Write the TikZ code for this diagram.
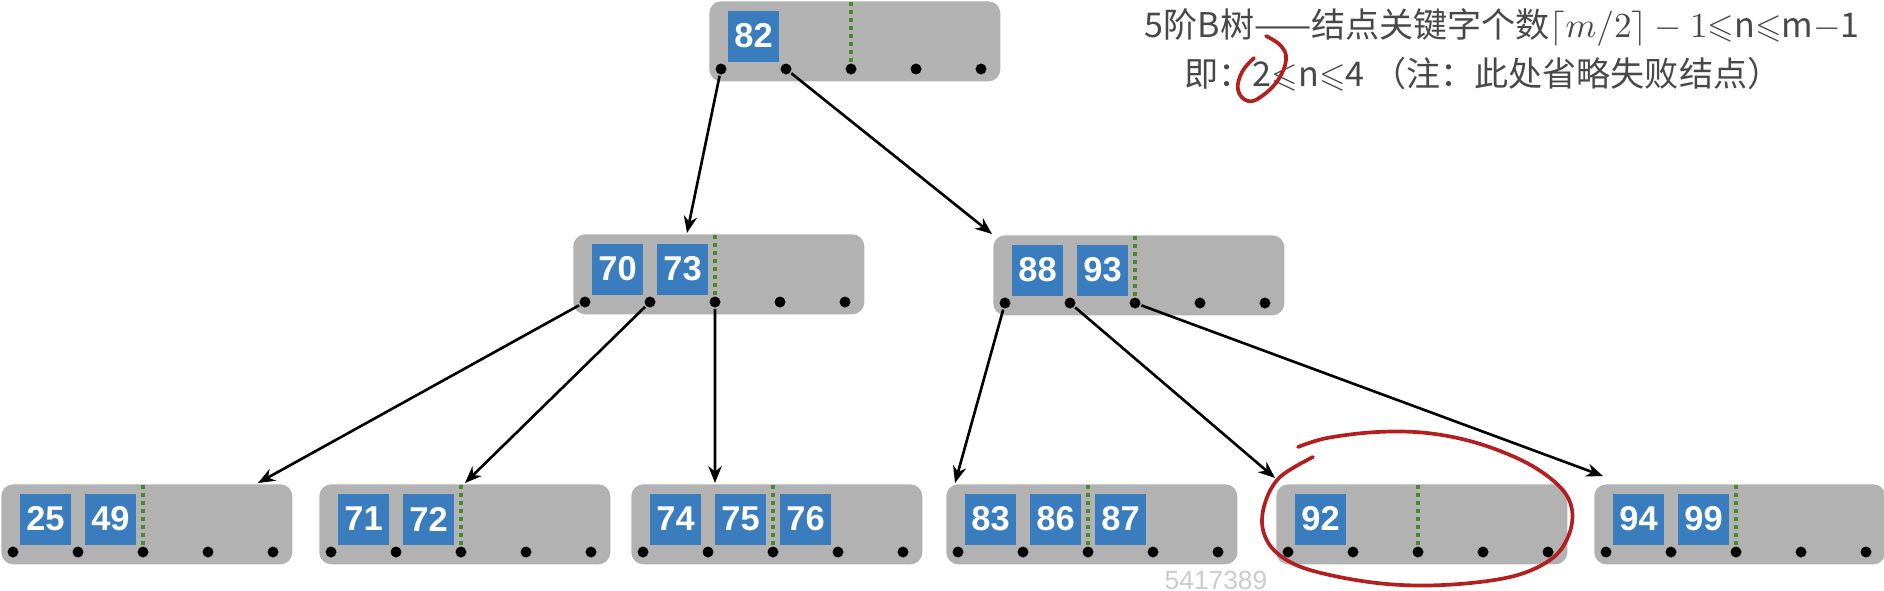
\documentclass[tikz,border=0pt]{standalone}
\usepackage{fontspec}
\usepackage{amssymb}
\setmainfont{Liberation Sans}
\newfontfamily\cjk{Noto Sans CJK SC}
\usetikzlibrary{arrows.meta}

\definecolor{boxgray}{RGB}{178,178,178}
\definecolor{keyblue}{RGB}{57,125,190}
\definecolor{mingreen}{RGB}{70,140,40}
\definecolor{penred}{RGB}{180,30,30}
\definecolor{textgray}{RGB}{72,72,72}

\tikzset{
  bbox/.style={fill=boxgray, rounded corners=3.4pt, minimum width=29.1mm,
    minimum height=8mm, anchor=north west, inner sep=0pt},
  bkey/.style={fill=keyblue, minimum size=5.1mm, inner sep=0pt, text=white,
    font=\fontsize{9.8}{10}\selectfont\bfseries},
  bptr/.style={circle, fill=black, minimum size=1.1mm, inner sep=0pt},
  bmin/.style={mingreen, line width=1.1pt, dash pattern=on 1.1pt off 1.2pt},
  pen/.style={penred, line width=1.05pt, line cap=round, line join=round},
  title/.style={text=textgray, font=\fontsize{9.7}{12}\selectfont\cjk, inner sep=0pt},
}

% one B-tree node: name, left, top, keys
\newcommand{\btreenode}[4]{%
  \node[bbox] (#1) at (#2,#3) {};
  \foreach \k [count=\i from 0] in {#4}
    \node[bkey] (#1k\i) at (#2+45.5+65*\i,#3+36) {\k};
  \foreach \i in {0,...,4}
    \node[bptr] (#1p\i) at (#2+13+65*\i,#3+69) {};
  \draw[bmin] (#1p2.north) -- (#1p2 |- #1.north);
}

\begin{document}
\begin{tikzpicture}
    [x=0.1mm, y=-0.1mm, line width=0.75pt,
     >={Stealth[length=4.8pt,width=3.8pt]}]
    \useasboundingbox (0,0) rectangle (1884,590);
    % the tree
    \btreenode{root}{708}{0}{82}
    \btreenode{ml}{572}{233}{70,73}
    \btreenode{mr}{992}{234}{88,93}
    \btreenode{la}{0}{483}{25,49}
    \btreenode{lb}{318}{483}{71,72}
    \btreenode{lc}{630}{483}{74,75,76}
    \btreenode{ld}{945}{483}{83,86,87}
    \btreenode{le}{1275}{483}{92}
    \btreenode{lf}{1593}{483}{94,99}
    \draw [->] (rootp0) to ([xshift=11.5mm]ml.north west);
    \draw [->] (rootp1) to (mr.north west);
    \draw [->] (mlp0) to ([xshift=25.8mm]la.north west);
    \draw [->] (mlp1) to ([xshift=14.7mm]lb.north west);
    \draw [->] (mlp2) to ([xshift=8.5mm]lc.north west);
    \draw [->] (mrp0) to ([xshift=1mm]ld.north west);
    \draw [->] (mrp1) to ([yshift=0.5mm]le.north west);
    \draw [->] (mrp2) to ([xshift=1mm,yshift=0.7mm]lf.north west);
    % notes
    \node[title] (head) at (1502,27)
      {5阶B树——结点关键字个数$\lceil m/2\rceil - 1$$\leqslant$n$\leqslant$m$-$1};
    \node[title] (note) at (1483,74)
      {即：2$\leqslant$n$\leqslant$4 （注：此处省略失败结点）};
    \node[text=black!20, font=\fontsize{7.5}{8}\selectfont] (wmark) at (1216,580) {5417389};
    % red marks
    \draw[pen] plot[smooth, tension=0.7] coordinates {(1266,36) (1281,46) (1286,60)
      (1278,80) (1262,96) (1248,101) (1238,90) (1242,72) (1254,58)};
    \draw[pen] plot[smooth, tension=0.6] coordinates {(1313,457) (1280,477) (1265,503)
      (1263,530) (1277,553) (1310,570) (1377,583) (1443,585) (1510,577) (1550,560)
      (1568,537) (1572,510) (1560,487) (1527,463) (1477,443) (1427,433) (1377,432)
      (1327,438) (1298,447)};
\end{tikzpicture}
\end{document}
